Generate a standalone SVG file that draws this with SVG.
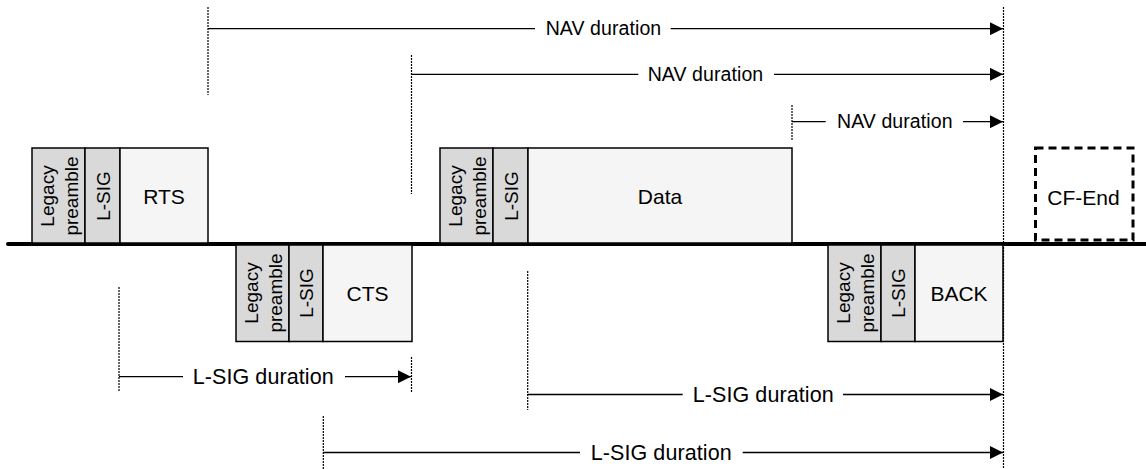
<svg xmlns="http://www.w3.org/2000/svg" width="1146" height="469" viewBox="0 0 1146 469">
<style>
  .pre { fill: #d9d9d9; stroke: #000; stroke-width: 1.5; }
  .body { fill: #f5f5f5; stroke: #000; stroke-width: 1.5; }
  .vt { font-family: "Liberation Sans", Arial, sans-serif; font-size: 19px; fill: #000; text-anchor: middle; }
  .lbl { font-family: "Liberation Sans", Arial, sans-serif; font-size: 21px; fill: #000; text-anchor: middle; }
  .nav { font-family: "Liberation Sans", Arial, sans-serif; font-size: 19.5px; fill: #000; }
  .ls { font-family: "Liberation Sans", Arial, sans-serif; font-size: 21.5px; fill: #000; }
  .dot { stroke: #000; stroke-width: 1.2; stroke-dasharray: 2 1; fill: none; }
  .arr { stroke: #000; stroke-width: 1.3; fill: none; }
</style>
<defs>
  <marker id="ah" markerUnits="userSpaceOnUse" markerWidth="13" markerHeight="13" refX="13" refY="6.5" orient="auto">
    <path d="M0,0 L13,6.5 L0,13 Z" fill="#000"/>
  </marker>
</defs>

<g id="timeline">
  <line x1="8" y1="244" x2="1146" y2="244" stroke="#000" stroke-width="4" stroke-linecap="round"/>
</g>

<g id="rts">
  <rect class="pre" x="32" y="148" width="53" height="95"/>
  <rect class="pre" x="85" y="148" width="35" height="95"/>
  <rect class="body" x="120" y="148" width="88" height="95"/>
  <text class="vt" transform="translate(32,196) rotate(-90)"><tspan x="0" y="21.8">Legacy</tspan><tspan x="0" y="45.8">preamble</tspan></text>
  <text class="vt" transform="translate(85,196) rotate(-90)" x="0" y="24.7">L-SIG</text>
  <text class="lbl" x="164" y="204">RTS</text>
</g>

<g id="cts">
  <rect class="pre" x="236" y="245" width="53" height="96.5"/>
  <rect class="pre" x="289" y="245" width="34" height="96.5"/>
  <rect class="body" x="323" y="245" width="89" height="96.5"/>
  <text class="vt" transform="translate(236,293) rotate(-90)"><tspan x="0" y="21.8">Legacy</tspan><tspan x="0" y="45.8">preamble</tspan></text>
  <text class="vt" transform="translate(289,293) rotate(-90)" x="0" y="24.2">L-SIG</text>
  <text class="lbl" x="367.5" y="300.5">CTS</text>
</g>

<g id="data">
  <rect class="pre" x="440" y="148" width="53" height="95"/>
  <rect class="pre" x="493" y="148" width="35" height="95"/>
  <rect class="body" x="528" y="148" width="264" height="95"/>
  <text class="vt" transform="translate(440,196) rotate(-90)"><tspan x="0" y="21.8">Legacy</tspan><tspan x="0" y="45.8">preamble</tspan></text>
  <text class="vt" transform="translate(493,196) rotate(-90)" x="0" y="24.7">L-SIG</text>
  <text class="lbl" x="660" y="204">Data</text>
</g>

<g id="back">
  <rect class="pre" x="828" y="245" width="53" height="96.5"/>
  <rect class="pre" x="881" y="245" width="34" height="96.5"/>
  <rect class="body" x="915" y="245" width="88" height="96.5"/>
  <text class="vt" transform="translate(828,293) rotate(-90)"><tspan x="0" y="21.8">Legacy</tspan><tspan x="0" y="45.8">preamble</tspan></text>
  <text class="vt" transform="translate(881,293) rotate(-90)" x="0" y="24.2">L-SIG</text>
  <text class="lbl" x="959" y="300.5">BACK</text>
</g>

<g id="cf-end">
  <rect x="1035.5" y="148" width="97.5" height="92" fill="#fff" stroke="#000" stroke-width="3" stroke-dasharray="8 5"/>
  <text class="lbl" x="1083.5" y="205">CF-End</text>
</g>

<g id="connectors">
  <line class="dot" x1="208" y1="7" x2="208" y2="95"/>
  <line class="dot" x1="411.5" y1="55" x2="411.5" y2="194"/>
  <line class="dot" x1="792" y1="105" x2="792" y2="141"/>
  <line class="dot" x1="1003.5" y1="7" x2="1003.5" y2="469"/>
  <line class="dot" x1="119" y1="287" x2="119" y2="392"/>
  <line class="dot" x1="411.5" y1="357" x2="411.5" y2="393"/>
  <line class="dot" x1="527.7" y1="271" x2="527.7" y2="410"/>
  <line class="dot" x1="323.3" y1="416" x2="323.3" y2="469"/>

  <line class="arr" x1="208" y1="28.7" x2="535" y2="28.7"/>
  <line class="arr" x1="670.7" y1="28.7" x2="1003" y2="28.7" marker-end="url(#ah)"/>
  <text class="nav" x="545.7" y="35.4" textLength="115.5">NAV duration</text>

  <line class="arr" x1="411.5" y1="74.3" x2="638.3" y2="74.3"/>
  <line class="arr" x1="774" y1="74.3" x2="1003" y2="74.3" marker-end="url(#ah)"/>
  <text class="nav" x="647.7" y="81" textLength="115.5">NAV duration</text>

  <line class="arr" x1="792" y1="121.7" x2="825.7" y2="121.7"/>
  <line class="arr" x1="963" y1="121.7" x2="1003" y2="121.7" marker-end="url(#ah)"/>
  <text class="nav" x="837" y="128.4" textLength="115.5">NAV duration</text>

  <line class="arr" x1="119" y1="376.7" x2="183" y2="376.7"/>
  <line class="arr" x1="345" y1="376.7" x2="411" y2="376.7" marker-end="url(#ah)"/>
  <text class="ls" x="192.7" y="384.3" textLength="141">L-SIG duration</text>

  <line class="arr" x1="527.7" y1="394.5" x2="682.7" y2="394.5"/>
  <line class="arr" x1="843" y1="394.5" x2="1003" y2="394.5" marker-end="url(#ah)"/>
  <text class="ls" x="692.7" y="402.2" textLength="141">L-SIG duration</text>

  <line class="arr" x1="323.3" y1="452.5" x2="580" y2="452.5"/>
  <line class="arr" x1="742.7" y1="452.5" x2="1003" y2="452.5" marker-end="url(#ah)"/>
  <text class="ls" x="590.7" y="460.2" textLength="141">L-SIG duration</text>
</g>
</svg>
